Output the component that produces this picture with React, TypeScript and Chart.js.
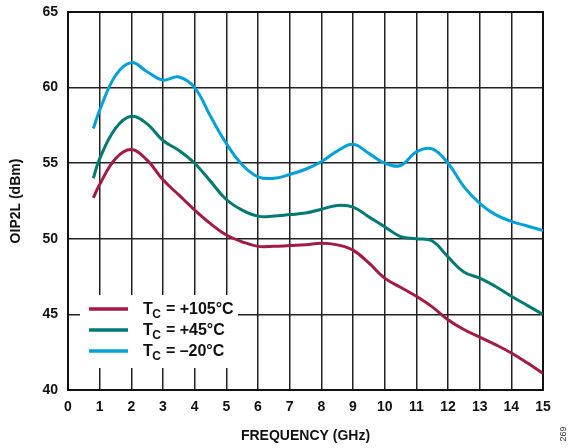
import React, { useEffect, useRef } from "react";
import { Chart, registerables } from "chart.js";

Chart.register(...registerables);

const freqGHz = [0.8, 1, 1.5, 2, 2.5, 3, 3.5, 4, 4.5, 5, 5.5, 6, 6.5, 7, 7.5, 8, 8.5, 9, 9.5, 10, 10.5, 11, 11.5, 12, 12.5, 13, 13.5, 14, 14.5, 15];

const oip2l105 = [52.7, 53.6, 55.3, 55.9, 55.2, 53.9, 52.9, 51.9, 51.0, 50.25, 49.8, 49.5, 49.5, 49.55, 49.6, 49.7, 49.6, 49.25, 48.4, 47.4, 46.8, 46.2, 45.5, 44.65, 44.0, 43.5, 43.0, 42.45, 41.8, 41.1];
const oip2l45 = [54.0, 55.3, 57.3, 58.1, 57.6, 56.5, 55.85, 55.0, 53.8, 52.6, 51.9, 51.5, 51.5, 51.6, 51.7, 51.95, 52.2, 52.1, 51.45, 50.8, 50.15, 50.0, 49.85, 48.8, 47.8, 47.4, 46.85, 46.2, 45.6, 45.0];
const oip2lM20 = [57.3, 58.5, 60.8, 61.65, 61.05, 60.5, 60.7, 60.0, 58.1, 56.3, 54.9, 54.1, 54.0, 54.25, 54.6, 55.1, 55.8, 56.25, 55.65, 55.0, 54.85, 55.75, 55.95, 55.0, 53.45, 52.35, 51.6, 51.15, 50.85, 50.55];

const seriesTemps = ["+105°C", "+45°C", "–20°C"];
const seriesColors = ["#A3194A", "#007A72", "#00A1D9"];
const seriesValues = [oip2l105, oip2l45, oip2lM20];

const xTitle = "FREQUENCY (GHz)";
const yTitle = "OIP2L (dBm)";
const figNumber = "269";

const FONT = "'Liberation Sans', Arial, sans-serif";

const overlayPlugin = {
  id: "overlay",
  beforeDatasetsDraw(chart: any) {
    const { ctx, chartArea } = chart;
    ctx.save();
    ctx.fillStyle = "#ffffff";
    ctx.fillRect(80, 295, 158, 73);
    ctx.strokeStyle = "#111";
    ctx.lineWidth = 2;
    ctx.strokeRect(chartArea.left, chartArea.top, chartArea.right - chartArea.left, chartArea.bottom - chartArea.top);
    ctx.restore();
  },
  afterDatasetsDraw(chart: any) {
    const { ctx } = chart;
    ctx.save();
    const rows = [309, 330, 351];
    seriesTemps.forEach((t, i) => {
      const y = rows[i];
      ctx.strokeStyle = seriesColors[i];
      ctx.lineWidth = 3.5;
      ctx.beginPath();
      ctx.moveTo(89, y);
      ctx.lineTo(128, y);
      ctx.stroke();
      ctx.fillStyle = "#111";
      ctx.textBaseline = "middle";
      ctx.textAlign = "left";
      ctx.font = `bold 16px ${FONT}`;
      ctx.fillText("T", 143, y + 1);
      const tw = ctx.measureText("T").width;
      ctx.font = `bold 12px ${FONT}`;
      ctx.fillText("C", 143 + tw - 0.5, y + 6);
      const cw = ctx.measureText("C").width;
      ctx.font = `bold 16px ${FONT}`;
      ctx.fillText(" = " + t, 143 + tw + cw, y + 1);
    });
    ctx.translate(564, 434);
    ctx.rotate(-Math.PI / 2);
    ctx.font = `9px ${FONT}`;
    ctx.fillStyle = "#333";
    ctx.textAlign = "center";
    ctx.textBaseline = "middle";
    ctx.fillText(figNumber, 0, 0);
    ctx.restore();
  },
};

export default function App() {
  const canvasRef = useRef<HTMLCanvasElement | null>(null);

  useEffect(() => {
    document.body.style.margin = "0";
    const canvas = canvasRef.current;
    if (!canvas) return;
    const chart = new Chart(canvas, {
      type: "line",
      data: {
        datasets: seriesValues.map((vals, i) => ({
          label: "TC = " + seriesTemps[i],
          data: freqGHz.map((f, j) => ({ x: f, y: vals[j] })),
          borderColor: seriesColors[i],
          backgroundColor: seriesColors[i],
          borderWidth: 3,
          pointRadius: 0,
          tension: 0.4,
          fill: false,
        })),
      },
      options: {
        responsive: false,
        animation: false,
        devicePixelRatio: 1,
        layout: { padding: { top: 12, right: 29, left: 0, bottom: 0 } },
        plugins: {
          legend: { display: false },
          tooltip: { enabled: false },
        },
        scales: {
          x: {
            type: "linear",
            min: 0,
            max: 15,
            afterFit(scale: any) {
              scale.height = 58;
              scale.paddingLeft = 0;
              scale.paddingRight = 0;
              scale.paddingTop = 0;
              scale.paddingBottom = 0;
            },
            ticks: {
              stepSize: 1,
              padding: 9,
              color: "#111",
              font: { family: FONT, size: 14, weight: "bold" },
            },
            grid: { color: "#222", lineWidth: 1.5, drawTicks: false },
            border: { display: true, color: "#111", width: 2 },
            title: {
              display: true,
              text: xTitle,
              color: "#111",
              font: { family: FONT, size: 14, weight: "bold" },
              padding: { top: 4, bottom: 3 },
            },
          },
          y: {
            type: "linear",
            min: 40,
            max: 65,
            afterFit(scale: any) {
              scale.width = 68;
              scale.paddingLeft = 0;
              scale.paddingRight = 0;
              scale.paddingTop = 0;
              scale.paddingBottom = 0;
            },
            ticks: {
              stepSize: 5,
              padding: 10,
              color: "#111",
              font: { family: FONT, size: 14, weight: "bold" },
            },
            grid: { color: "#222", lineWidth: 1.5, drawTicks: false },
            border: { display: true, color: "#111", width: 2 },
            title: {
              display: true,
              text: yTitle,
              color: "#111",
              font: { family: FONT, size: 14, weight: "bold" },
              padding: { top: 8, bottom: 4 },
            },
          },
        },
      },
      plugins: [overlayPlugin],
    });
    return () => chart.destroy();
  }, []);

  return (
    <div style={{ width: 572, height: 448 }}>
      <canvas ref={canvasRef} width={572} height={448} style={{ display: "block" }} />
    </div>
  );
}
